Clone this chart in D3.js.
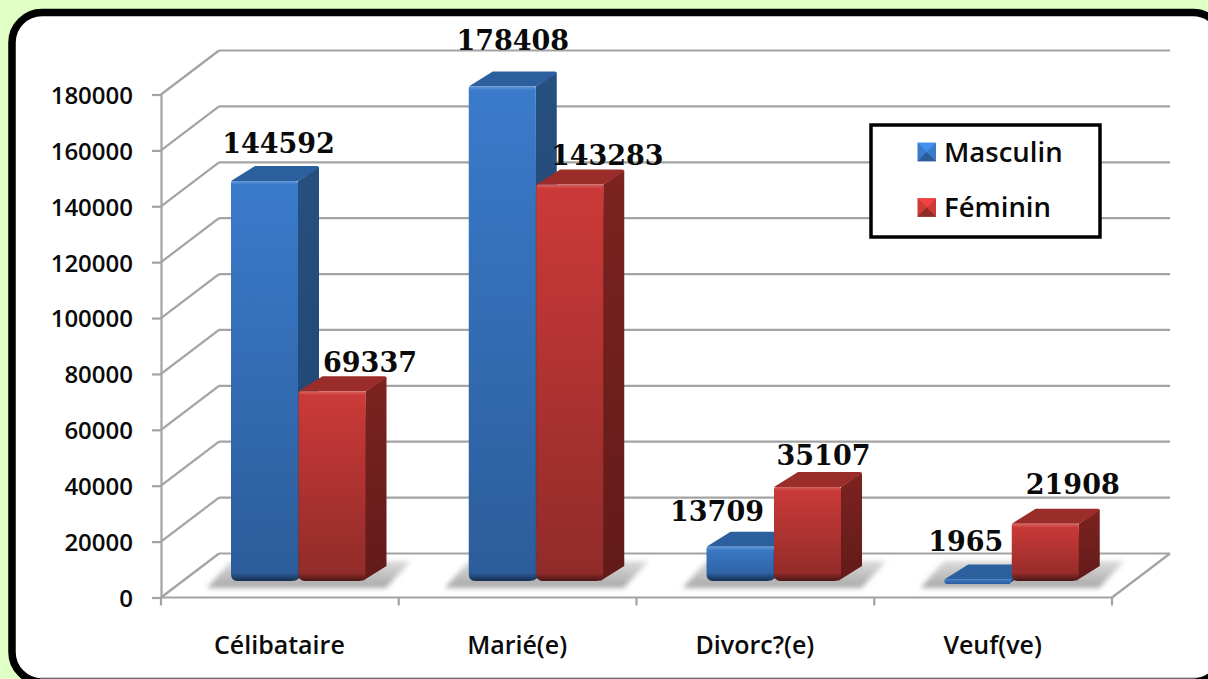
<!DOCTYPE html>
<html lang="fr">
<head>
<meta charset="utf-8">
<title>Population par état matrimonial et sexe</title>
<script src="https://cdn.jsdelivr.net/npm/d3@7"></script>
<style>
  html, body { margin: 0; padding: 0; background: #dfffc4; overflow: hidden; }
  svg { display: block; }
  .tick-label { font-family: "Open Sans", sans-serif; font-weight: 600; fill: #0a0a0a; }
  .value-label { font-family: "DejaVu Serif", serif; font-weight: 700; font-size: 27px; fill: #0a0a0a; }
</style>
</head>
<body>
<svg id="chart" width="1208" height="679"></svg>
<script>
// Data
const categories = ["Célibataire", "Marié(e)", "Divorc?(e)", "Veuf(ve)"];
const seriesNames = ["Masculin", "Féminin"];
const masculin = [144592, 178408, 13709, 1965];
const feminin = [69337, 143283, 35107, 21908];
const yTicks = [0, 20000, 40000, 60000, 80000, 100000, 120000, 140000, 160000, 180000];

// Hand placement of the value labels, relative to the top centre of each bar
const labelOffsets = {
  Masculin: [[14, -28], [10.5, -36], [-23, -26], [-12, -29]],
  "Féminin": [[38, -19], [37.5, -20], [16, -22], [27.5, -30]]
};

// Colour ramps for each series
const palette = {
  Masculin: { hi: "#3a7bcb", lo: "#2c5c9a", side: "#26507f", sideLo: "#1f4470", top: "#2b5f9e" },
  "Féminin": { hi: "#cc3a38", lo: "#8f2b29", side: "#7c2320", sideLo: "#621b19", top: "#9a2d2a" }
};

const svg = d3.select("#chart");
const defs = svg.append("defs");

// Oblique projection of the chart's depth
const wallDepth = { x: 58, y: -44 };
const barDepth = { x: 21, y: -15 };
const frontLift = 12.5;      // bar fronts stand this far above the front axis line
const footY = 581;           // lower edge of the bar fronts

const x0 = d3.scaleBand().domain(categories).range([161, 1112]);
const x1 = d3.scaleBand().domain(seriesNames).range([0, 135]);
const groupInset = 70;
const y = d3.scaleLinear().domain([0, 180000]).range([597.5, 94.5]);

// Gradients
function vGradient(id, stops) {
  const g = defs.append("linearGradient").attr("id", id)
    .attr("x1", 0).attr("x2", 0).attr("y1", 0).attr("y2", 1);
  stops.forEach(([o, c, a]) => g.append("stop").attr("offset", o).attr("stop-color", c).attr("stop-opacity", a ?? 1));
}
seriesNames.forEach((s, i) => {
  const p = palette[s];
  vGradient("front" + i, [[0, p.hi], [1, p.lo]]);
  vGradient("side" + i, [[0, p.side], [1, p.sideLo]]);
});
vGradient("footShade", [[0, "#000", 0], [1, "#000", 0.5]]);
vGradient("capGlow", [[0, "#fff", 0.22], [1, "#fff", 0]]);
vGradient("shadowFill", [[0, "#dcdcdc"], [1, "#a8a8a8"]]);
defs.append("filter").attr("id", "soft").attr("x", "-10%").attr("y", "-40%").attr("width", "120%").attr("height", "180%")
  .append("feGaussianBlur").attr("stdDeviation", 2.8);

// Panel with its heavy rounded frame
svg.append("rect").attr("x", 12).attr("y", 12.5).attr("width", 1211).attr("height", 669.5)
  .attr("rx", 30).attr("ry", 30)
  .attr("fill", "#fff").attr("stroke", "#000").attr("stroke-width", 7.5);
svg.append("line").attr("x1", 40).attr("x2", 1196).attr("y1", 678).attr("y2", 678)
  .attr("stroke", "#9a9a9a").attr("stroke-width", 1.2);

const gridColor = "#a3a3a3";
const grid = svg.append("g").attr("fill", "none").attr("stroke", gridColor).attr("stroke-width", 2.2);

// Back wall gridlines and their returns along the left wall
grid.selectAll("line.back").data(yTicks).join("line").attr("class", "back")
  .attr("x1", 161 + wallDepth.x).attr("x2", 1112 + wallDepth.x)
  .attr("y1", d => y(d) + wallDepth.y).attr("y2", d => y(d) + wallDepth.y);
grid.selectAll("line.wall").data(yTicks).join("line").attr("class", "wall")
  .attr("x1", 161).attr("x2", 161 + wallDepth.x)
  .attr("y1", d => y(d)).attr("y2", d => y(d) + wallDepth.y);

// Floor edge on the right and category separators
grid.append("line").attr("x1", 1112).attr("x2", 1112 + wallDepth.x)
  .attr("y1", y(0)).attr("y2", y(0) + wallDepth.y);
grid.append("line").attr("x1", 161).attr("x2", 1112).attr("y1", y(0)).attr("y2", y(0));
const edges = categories.map(c => x0(c)).concat(x0.range()[1]);
grid.selectAll("line.sep").data(edges).join("line").attr("class", "sep")
  .attr("x1", d => d).attr("x2", d => d).attr("y1", y(0)).attr("y2", y(0) + 8);

// Value axis
const yAxis = svg.append("g").attr("transform", "translate(161,0)")
  .call(d3.axisLeft(y).tickValues(yTicks).tickFormat(d3.format("d")).tickSize(9).tickSizeOuter(0).tickPadding(19));
yAxis.select(".domain").attr("stroke", gridColor).attr("stroke-width", 2.2);
yAxis.selectAll(".tick line").attr("stroke", gridColor).attr("stroke-width", 2.2);
yAxis.selectAll(".tick text").attr("class", "tick-label").style("font-size", "24px").attr("dy", "0.37em");

// Category axis
const catAxis = svg.append("g").attr("transform", `translate(-0.5,${y(0)})`)
  .call(d3.axisBottom(x0).tickSize(0).tickPadding(38.5));
catAxis.select(".domain").remove();
catAxis.selectAll(".tick text").attr("class", "tick-label").style("font-size", "25px");

// Floor shadows under each pair of bars
const shadowPath = c => {
  const l = x0(c) + groupInset, r = l + x1.range()[1];
  return `M${l - 24},588 L${r + 20},588 L${r + 45},561 L${l},561 Z`;
};
svg.append("g").selectAll("path").data(categories).join("path")
  .attr("d", shadowPath).attr("fill", "url(#shadowFill)").attr("filter", "url(#soft)");

// Outline of a bar front: tight upper corners, rounder lower ones
function frontPath(l, r, t, b) {
  const rb = Math.min(7, (b - t) * 0.8), rt = Math.min(2, (b - t) / 2);
  return `M${l + rt},${t} L${r - rt},${t} Q${r},${t} ${r},${t + rt} L${r},${b - rb} Q${r},${b} ${r - rb},${b}`
    + ` L${l + rb},${b} Q${l},${b} ${l},${b - rb} L${l},${t + rt} Q${l},${t} ${l + rt},${t} Z`;
}

const bars = categories.flatMap((c, i) => seriesNames.map((s, j) => ({
  category: c, series: s, seriesIndex: j,
  value: (j === 0 ? masculin : feminin)[i],
  offset: labelOffsets[s][i]
})));

const barLayer = svg.append("g");
const geometry = d => {
  const l = x0(d.category) + groupInset + x1(d.series);
  const r = l + x1.bandwidth() - 0.5;
  const t = y(d.value) - frontLift;
  return { l, r, t, b: Math.max(footY, t + 4.5) };
};

bars.forEach(d => {
  const { l, r, t, b } = geometry(d);
  const p = palette[d.series];
  const g = barLayer.append("g");
  const dx = barDepth.x, dy = barDepth.y;

  // Right-hand face, with a chamfered foot
  g.append("path")
    .attr("d", `M${r},${t} L${r + dx},${t + dy + 1} Q${r + dx},${t + dy} ${r + dx},${t + dy + 2}`
      + ` L${r + dx},${Math.max(b + dy, t + dy + 2)} L${r - 3},${b} Z`)
    .attr("fill", `url(#side${d.seriesIndex})`);

  // Top face
  g.append("path")
    .attr("d", `M${l},${t} L${l + dx + 3},${t + dy} L${r + dx - 2},${t + dy} Q${r + dx},${t + dy} ${r + dx},${t + dy + 2} L${r},${t} Z`)
    .attr("fill", p.top);

  // Front face with its highlight and shaded foot
  g.append("path").attr("d", frontPath(l, r, t, b)).attr("fill", `url(#front${d.seriesIndex})`);
  if (b - t > 14) {
    g.append("path").attr("d", frontPath(l, r, b - 8, b)).attr("fill", "url(#footShade)");
    g.append("rect").attr("x", l + 1).attr("y", t).attr("width", r - l - 2).attr("height", 4).attr("fill", "url(#capGlow)");
  }
});

// Value labels
svg.append("g").selectAll("text").data(bars).join("text")
  .attr("class", "value-label")
  .attr("text-anchor", "middle")
  .attr("x", d => { const g = geometry(d); return (g.l + g.r) / 2 + d.offset[0]; })
  .attr("y", d => geometry(d).t + d.offset[1])
  .text(d => d.value);

// Legend
const legend = svg.append("g");
legend.append("rect").attr("x", 871).attr("y", 125).attr("width", 229).attr("height", 112)
  .attr("fill", "#fff").attr("stroke", "#000").attr("stroke-width", 3.5);
const legendScale = d3.scalePoint().domain(seriesNames).range([152, 207.5]);
const swatch = 18.5;
seriesNames.forEach(s => {
  const p = palette[s];
  const cy = legendScale(s), l = 917.5, r = l + swatch, t = cy - swatch / 2, b = cy + swatch / 2, mx = l + swatch / 2;
  const row = legend.append("g");
  row.append("rect").attr("x", l).attr("y", t).attr("width", swatch).attr("height", swatch).attr("fill", p.hi);
  row.append("path").attr("d", `M${l},${t} L${r},${t} L${mx},${cy} Z`).attr("fill", d3.color(p.hi).brighter(0.45));
  row.append("path").attr("d", `M${l},${b} L${r},${b} L${mx},${cy} Z`).attr("fill", p.lo);
  row.append("text").attr("class", "tick-label").attr("x", 944).attr("y", cy + 9.5)
    .style("font-size", "27.5px").text(s);
});
</script>
</body>
</html>
